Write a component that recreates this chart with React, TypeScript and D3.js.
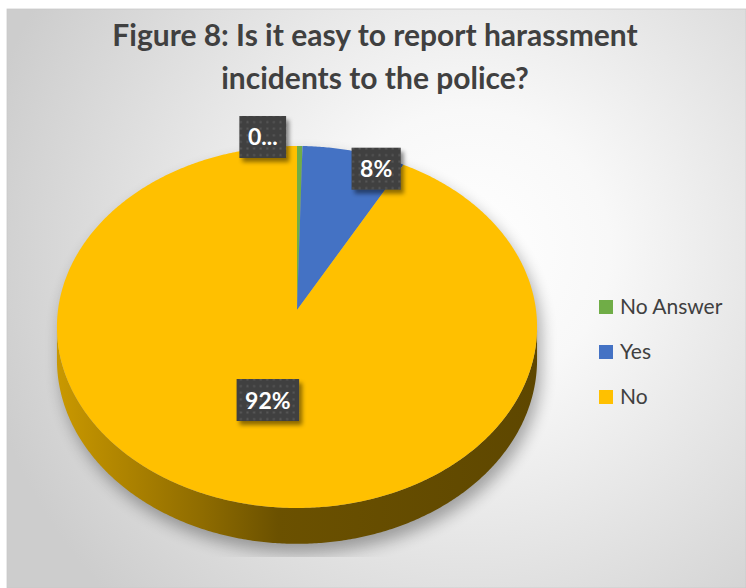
import React from "react";
import * as d3 from "d3";

const categories = ["No Answer", "Yes", "No"];
const values = [0.4, 7.6, 92.0];
const labelTexts = ["0...", "8%", "92%"];
const colors = ["#70AD47", "#4472C4", "#FFC000"];
const titleLines = ["Figure 8: Is it easy to report harassment", "incidents to the police?"];

const W = 746;
const H = 588;
const CX = 297;
const CY = 310;
const RX = 239;
const RY = 179.4;
const PERSP = 0.0938;
const DEPTH = 32.5;

const labelLayout = [
  { f: 1, dx: -37, dy: -9 },
  { f: 1, dx: 22, dy: 17.5 },
  { f: 0.5, dx: 2, dy: -1 },
];

function project(theta: number, f = 1, drop = 0): [number, number] {
  const u = Math.sin(theta) * f;
  const v = -Math.cos(theta) * f;
  const w = 1 - PERSP * v;
  return [CX + (RX * u) / w, CY + (RY * v + drop * DEPTH) / w];
}

function arcPts(a0: number, a1: number, drop = 0): [number, number][] {
  const n = Math.max(2, Math.ceil((a1 - a0) / (Math.PI / 360)));
  const pts: [number, number][] = [];
  for (let i = 0; i <= n; i++) pts.push(project(a0 + ((a1 - a0) * i) / n, 1, drop));
  return pts;
}

const line = d3.line();

function measure(text: string, font: string): number {
  const c = document.createElement("canvas").getContext("2d");
  if (!c) return text.length * 11;
  c.font = font;
  return c.measureText(text).width;
}

export default function App() {
  const arcs = d3.pie<number>().sort(null).startAngle(0).endAngle(2 * Math.PI)(values);
  const tR = Math.acos(-PERSP);
  const tL = 2 * Math.PI - tR;

  const topPaths = arcs.map((a) => {
    const pts = [[CX, CY] as [number, number], ...arcPts(a.startAngle, a.endAngle)];
    return line(pts) + "Z";
  });

  const sidePaths = arcs.map((a) => {
    const s0 = Math.max(a.startAngle, tR);
    const s1 = Math.min(a.endAngle, tL);
    if (s1 <= s0) return null;
    const pts = [...arcPts(s0, s1, 0), ...arcPts(s0, s1, 1).reverse()];
    return line(pts) + "Z";
  });

  const silhouette =
    line(arcPts(0, 2 * Math.PI)) + "Z" + line([...arcPts(tR, tL, 0), ...arcPts(tR, tL, 1).reverse()]) + "Z";

  const sideStops = [
    [0, 0.79],
    [0.3, 0.56],
    [0.46, 0.42],
    [1, 0.37],
  ];

  const labelFont = "bold 23px Lato";
  const labels = arcs.map((a, i) => {
    const mid = (a.startAngle + a.endAngle) / 2;
    const lay = labelLayout[i];
    const [px, py] = project(mid, lay.f);
    const tw = measure(labelTexts[i], labelFont);
    const bw = tw + 17;
    const bh = 42;
    return { x: px + lay.dx, y: py + lay.dy, bw, bh, text: labelTexts[i] };
  });

  const legendY = d3.scalePoint<string>().domain(categories).range([307, 397]);

  return (
    <svg
      width={W}
      height={H}
      style={{ position: "absolute", left: 0, top: 0, display: "block" }}
      xmlns="http://www.w3.org/2000/svg"
    >
      <defs>
        <radialGradient id="bg" gradientUnits="userSpaceOnUse" cx={470} cy={250} r={500}>
          <stop offset="0" stopColor="#ffffff" />
          <stop offset="0.28" stopColor="#f8f8f8" />
          <stop offset="1" stopColor="#cdcdcd" />
        </radialGradient>
        {colors.map((c, i) => {
          const base = d3.rgb(c);
          return (
            <linearGradient key={i} id={`side${i}`} gradientUnits="userSpaceOnUse" x1={CX - RX} x2={CX + RX} y1={0} y2={0}>
              {sideStops.map(([o, k], j) => (
                <stop
                  key={j}
                  offset={o}
                  stopColor={d3.rgb(base.r * k, base.g * k, base.b * k).formatHex()}
                />
              ))}
            </linearGradient>
          );
        })}
        <filter id="blur" x="-30%" y="-30%" width="160%" height="160%">
          <feGaussianBlur stdDeviation="8" />
        </filter>
        <filter id="boxShadow" x="-30%" y="-30%" width="160%" height="160%">
          <feDropShadow dx="3" dy="4" stdDeviation="2" floodColor="#000" floodOpacity="0.45" />
        </filter>
        <clipPath id="shadowClip">
          <rect x={38} y={0} width={540} height={557} />
        </clipPath>
        <pattern id="dots" width={6.6} height={6.6} patternUnits="userSpaceOnUse">
          <rect width={6.6} height={6.6} fill="#404040" />
          <rect x={2.3} y={2.3} width={2} height={2} fill="#585858" />
        </pattern>
      </defs>

      <rect x={7} y={9} width={W - 7} height={H - 9} fill="url(#bg)" stroke="#c8c8c8" strokeWidth={0.75} />

      {titleLines.map((t, i) => (
        <text
          key={i}
          x={375}
          y={46 + i * 43}
          textAnchor="middle"
          fontFamily="Lato, 'Open Sans', sans-serif"
          fontWeight="bold"
          fontSize={30}
          fill="#404040"
        >
          {t}
        </text>
      ))}

      <g clipPath="url(#shadowClip)">
        <path d={silhouette} fill="#000" opacity={0.32} transform="translate(4,9)" filter="url(#blur)" />
      </g>

      {sidePaths.map((d, i) => (d ? <path key={`s${i}`} d={d} fill={`url(#side${i})`} /> : null))}
      {topPaths.map((d, i) => (
        <path key={`t${i}`} d={d} fill={colors[i]} />
      ))}

      {labels.map((l, i) => (
        <g key={`l${i}`}>
          <rect
            x={l.x - l.bw / 2}
            y={l.y - l.bh / 2}
            width={l.bw}
            height={l.bh}
            fill="url(#dots)"
            filter="url(#boxShadow)"
          />
          <text
            x={l.x}
            y={l.y + 8.5}
            textAnchor="middle"
            fontFamily="Lato, 'Open Sans', sans-serif"
            fontWeight="bold"
            fontSize={23}
            fill="#ffffff"
          >
            {l.text}
          </text>
        </g>
      ))}

      {categories.map((c, i) => {
        const y = legendY(c) as number;
        return (
          <g key={`lg${i}`}>
            <rect x={599} y={y - 7} width={14} height={14} fill={colors[i]} />
            <text x={620} y={y + 7} fontFamily="Lato, 'Open Sans', sans-serif" fontSize={21} fill="#404040">
              {c}
            </text>
          </g>
        );
      })}
    </svg>
  );
}
